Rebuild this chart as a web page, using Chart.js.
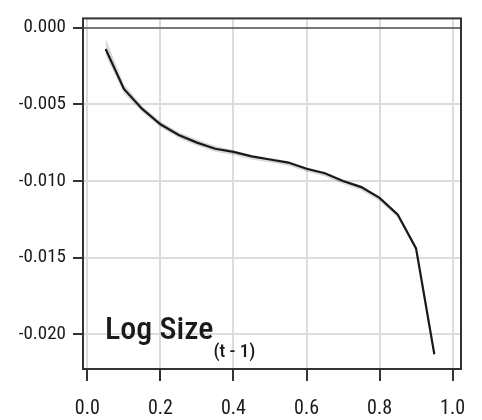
<!DOCTYPE html>
<html>
<head>
<meta charset="utf-8">
<script src="https://cdn.jsdelivr.net/npm/chart.js@4"></script>
<style>
  html, body { margin: 0; padding: 0; background: #fff; }
  #chart { display: block; }
</style>
</head>
<body>
<canvas id="chart" width="482" height="420"></canvas>
<script>
// Quantile levels and estimated effect
const quantiles = [0.05, 0.10, 0.15, 0.20, 0.25, 0.30, 0.35, 0.40, 0.45, 0.50,
                   0.55, 0.60, 0.65, 0.70, 0.75, 0.80, 0.85, 0.90, 0.95];
const effect = [-0.0014, -0.0040, -0.0053, -0.0063, -0.0070, -0.0075, -0.0079, -0.0081, -0.0084, -0.0086,
                -0.0088, -0.0092, -0.0095, -0.0100, -0.0104, -0.0111, -0.0122, -0.0144, -0.0213];
const bandUpper = [-0.0007, -0.0037, -0.0051, -0.0061, -0.0068, -0.0073, -0.0077, -0.0080, -0.0083, -0.0085,
                   -0.0087, -0.0091, -0.0094, -0.0099, -0.0103, -0.0110, -0.0121, -0.0143, -0.0210];
const bandLower = [-0.0018, -0.0043, -0.0055, -0.0065, -0.0072, -0.0077, -0.0081, -0.0083, -0.0086, -0.0088,
                   -0.0090, -0.0094, -0.0097, -0.0102, -0.0106, -0.0113, -0.0124, -0.0146, -0.0216];

const xTickValues = [0, 0.2, 0.4, 0.6, 0.8, 1.0];
const xTickLabels = ['0.0', '0.2', '0.4', '0.6', '0.8', '1.0'];
const yTickValues = [0, -0.005, -0.010, -0.015, -0.020];
const yTickLabels = ['0.000', '-0.005', '-0.010', '-0.015', '-0.020'];

const FONT = "'Liberation Sans Narrow', 'Roboto Condensed', 'DejaVu Sans Condensed', sans-serif";

const toPoints = (ys) => quantiles.map((q, i) => ({ x: q, y: ys[i] }));

// Frame around the plot area plus the variable label
const framePlugin = {
  id: 'frame',
  afterDraw(chart) {
    const { ctx, chartArea } = chart;
    ctx.save();
    ctx.strokeStyle = '#333';
    ctx.lineWidth = 2;
    ctx.strokeRect(chartArea.left, chartArea.top,
      chartArea.right - chartArea.left, chartArea.bottom - chartArea.top);

    ctx.fillStyle = '#1a1a1a';
    ctx.textAlign = 'left';
    ctx.textBaseline = 'alphabetic';
    ctx.font = `500 32px ${FONT}`;
    ctx.fillText('Log Size', 105, 339);
    const w = ctx.measureText('Log Size').width;
    ctx.font = `500 19px ${FONT}`;
    ctx.fillText('(t - 1)', 105 + w, 357);
    ctx.restore();
  }
};

new Chart(document.getElementById('chart').getContext('2d'), {
  type: 'line',
  data: {
    datasets: [
      {
        label: 'lower',
        data: toPoints(bandLower),
        borderWidth: 0,
        borderColor: 'rgba(0,0,0,0)',
        pointRadius: 0,
        fill: false
      },
      {
        label: 'upper',
        data: toPoints(bandUpper),
        borderWidth: 0,
        borderColor: 'rgba(0,0,0,0)',
        backgroundColor: 'rgba(0,0,0,0.15)',
        pointRadius: 0,
        fill: '-1'
      },
      {
        label: 'effect',
        data: toPoints(effect),
        borderColor: '#1e1e1e',
        borderWidth: 2.2,
        pointRadius: 0,
        tension: 0,
        fill: false
      }
    ]
  },
  options: {
    responsive: false,
    animation: false,
    layout: { padding: { top: 8, right: 21, left: 0, bottom: 0 } },
    plugins: {
      legend: { display: false },
      tooltip: { enabled: false }
    },
    scales: {
      x: {
        type: 'linear',
        min: -0.012,
        max: 1.023,
        afterBuildTicks(scale) {
          scale.ticks = xTickValues.map(v => ({ value: v }));
        },
        afterFit(scale) { scale.height = 51; },
        grid: {
          color: '#dcdcdc',
          lineWidth: 2,
          tickColor: '#333',
          tickLength: 12,
          drawOnChartArea: true
        },
        border: { display: false },
        ticks: {
          autoSkip: false,
          maxRotation: 0,
          padding: 16,
          color: '#1a1a1a',
          font: { family: FONT, size: 20 },
          callback: (value) => xTickLabels[xTickValues.indexOf(value)]
        }
      },
      y: {
        type: 'linear',
        min: -0.02226,
        max: 0.0006,
        afterBuildTicks(scale) {
          scale.ticks = yTickValues.map(v => ({ value: v }));
        },
        afterFit(scale) { scale.width = 83; },
        grid: {
          color: (c) => (c.tick && c.tick.value === 0 ? '#777' : '#dcdcdc'),
          lineWidth: 2,
          tickColor: '#333',
          tickLength: 10
        },
        border: { display: false },
        ticks: {
          autoSkip: false,
          padding: 7,
          color: '#1a1a1a',
          font: { family: FONT, size: 19 },
          callback: (value) => yTickLabels[yTickValues.indexOf(value)]
        }
      }
    }
  },
  plugins: [framePlugin]
});
</script>
</body>
</html>
